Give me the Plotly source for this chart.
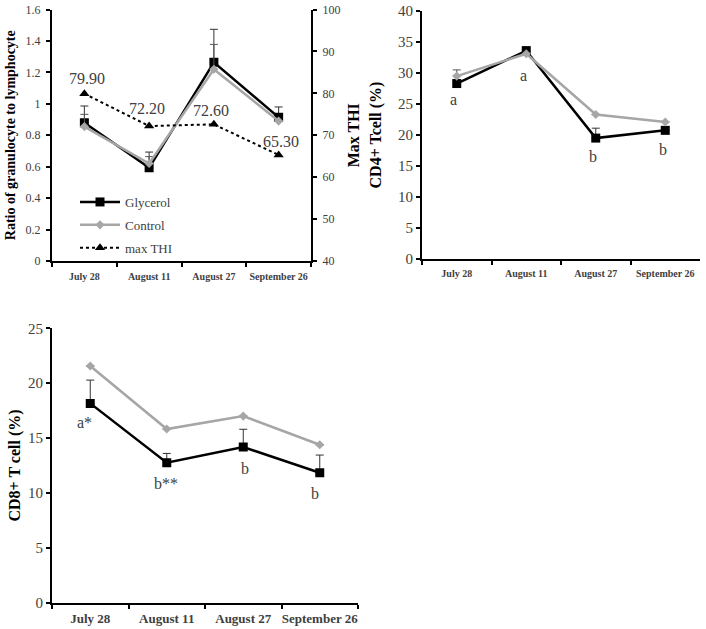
import plotly.graph_objects as go

# ---------------- data ----------------
dates = ["July 28", "August 11", "August 27", "September 26"]

gl_ratio = [0.88, 0.593, 1.264, 0.914]
gl_ratio_err = [0.106, 0.10, 0.21, 0.066]
ct_ratio = [0.855, 0.62, 1.22, 0.89]
ct_ratio_err = [0.078, 0.044, 0.158, 0.0]
max_thi = [79.9, 72.2, 72.6, 65.3]
thi_labels = ["79.90", "72.20", "72.60", "65.30"]

gl_cd4 = [28.3, 33.6, 19.5, 20.75]
gl_cd4_err = [0.4, 0.6, 1.6, 0.4]
ct_cd4 = [29.5, 33.1, 23.3, 22.1]
ct_cd4_err = [1.0, 0.0, 0.0, 0.0]
cd4_letters = ["a", "a", "b", "b"]

gl_cd8 = [18.16, 12.75, 14.18, 11.84]
gl_cd8_err = [2.12, 0.85, 1.62, 1.61]
ct_cd8 = [21.56, 15.82, 17.0, 14.39]
ct_cd8_err = [0.0, 0.0, 0.0, 0.0]
cd8_letters = ["a*", "b**", "b", "b"]

# ---------------- styles ----------------
W, H = 706, 629
SERIF = "Liberation Serif, Times New Roman, serif"
BLACK = "#000000"
GRAY = "#a6a6a6"
TXT = "#404040"


def px_x(p):
    return p / W


def px_y(p):
    return 1 - p / H


fig = go.Figure()


def add_pair(xa, ya, gl, gle, ct, cte, show):
    fig.add_trace(go.Scatter(
        x=dates, y=gl, name="Glycerol", mode="lines+markers",
        xaxis=xa, yaxis=ya, legendgroup="g1", showlegend=show,
        line=dict(color=BLACK, width=2.5),
        marker=dict(symbol="square", size=9, color=BLACK),
        error_y=dict(type="data", symmetric=False, array=gle,
                     arrayminus=[0] * len(gle), color="#333333",
                     thickness=1, width=4),
    ))
    fig.add_trace(go.Scatter(
        x=dates, y=ct, name="Control", mode="lines+markers",
        xaxis=xa, yaxis=ya, legendgroup="g2", showlegend=show,
        line=dict(color=GRAY, width=2.5),
        marker=dict(symbol="diamond", size=7, color=GRAY),
        error_y=dict(type="data", symmetric=False, array=cte,
                     arrayminus=[0] * len(cte), color="#555555",
                     thickness=1, width=4),
    ))


# Panel 1
add_pair("x", "y", gl_ratio, gl_ratio_err, ct_ratio, ct_ratio_err, True)
fig.add_trace(go.Scatter(
    x=dates, y=max_thi, name="max THI", mode="lines+markers",
    xaxis="x", yaxis="y2", legendgroup="g3",
    line=dict(color=BLACK, width=2, dash="dot"),
    marker=dict(symbol="triangle-up", size=9, color=BLACK),
))
# Panel 2
add_pair("x2", "y3", gl_cd4, gl_cd4_err, ct_cd4, ct_cd4_err, False)
# Panel 3
add_pair("x3", "y4", gl_cd8, gl_cd8_err, ct_cd8, ct_cd8_err, False)

annotations = []
thi_shift = [(3, 15), (-2, 18), (-3, 14), (2, 13)]
for d, v, t, (dx, dy) in zip(dates, max_thi, thi_labels, thi_shift):
    annotations.append(dict(x=d, y=v, xref="x", yref="y2", text=t,
                            showarrow=False, xshift=dx, yshift=dy,
                            font=dict(family=SERIF, size=16, color=TXT)))
cd4_shift = [(-3.5, -15.5), (-3, -25), (-3, -18), (-2, -19)]
for d, v, t, (dx, dy) in zip(dates, gl_cd4, cd4_letters, cd4_shift):
    annotations.append(dict(x=d, y=v, xref="x2", yref="y3", text=t,
                            showarrow=False, xshift=dx, yshift=dy,
                            font=dict(family=SERIF, size=16, color=TXT)))
cd8_shift = [(-6, -19), (-1, -21), (2, -21), (-5, -21)]
for d, v, t, (dx, dy) in zip(dates, gl_cd8, cd8_letters, cd8_shift):
    annotations.append(dict(x=d, y=v, xref="x3", yref="y4", text=t,
                            showarrow=False, xshift=dx, yshift=dy,
                            font=dict(family=SERIF, size=16, color=TXT)))


def xaxis(dom, anchor, fs, lstand):
    return dict(domain=dom, anchor=anchor, type="category",
                range=[-0.5, 3.5], tickson="boundaries", tickangle=0,
                automargin=False, ticklabelstandoff=lstand,
                ticks="outside", ticklen=4, tickwidth=1.5, tickcolor=BLACK,
                showline=True, linecolor=BLACK, linewidth=2,
                showgrid=False, zeroline=False,
                tickfont=dict(family=SERIF, size=fs, color=TXT, weight="bold"))


def yaxis(dom, anchor, rng, dtick, fs, title, tfs, standoff, lstand,
          side="left"):
    return dict(domain=dom, anchor=anchor, range=rng, dtick=dtick,
                side=side, ticks="outside", ticklen=4, tickwidth=1.5,
                automargin=False,
                tickcolor=BLACK, showline=True, linecolor=BLACK, linewidth=2,
                showgrid=False, zeroline=False, ticklabelstandoff=lstand,
                tickfont=dict(family=SERIF, size=fs, color=TXT),
                title=dict(text=title, standoff=standoff,
                           font=dict(family=SERIF, size=tfs, color=BLACK,
                                     weight="bold")))


y2 = yaxis([px_y(261), px_y(9.5)], "x", [40, 100], 10, 12,
           "Max THI", 16, 8, 3, side="right")
y2.pop("domain")
y2["overlaying"] = "y"

fig.update_layout(
    width=W, height=H,
    margin=dict(l=0, r=0, t=0, b=0, autoexpand=False),
    paper_bgcolor="white", plot_bgcolor="white",
    showlegend=True,
    legend=dict(x=px_x(75), y=px_y(187), xanchor="left", yanchor="top",
                bgcolor="rgba(0,0,0,0)", traceorder="grouped",
                tracegroupgap=3, itemwidth=40,
                font=dict(family=SERIF, size=13, color=TXT)),
    xaxis=xaxis([px_x(52), px_x(311)], "y", 10, 5),
    yaxis=yaxis([px_y(261), px_y(9.5)], "x", [0, 1.6], 0.2, 12,
                "Ratio of granulocyte to lymphocyte", 14, 7, 3),
    yaxis2=y2,
    xaxis2=xaxis([px_x(422), px_x(700)], "y3", 10, 4),
    yaxis3=yaxis([px_y(259), px_y(11)], "x2", [0, 40], 5, 15,
                 "CD4+ Tcell (%)", 16, 12, 0),
    xaxis3=xaxis([px_x(52), px_x(358)], "y4", 13, 3),
    yaxis4=yaxis([px_y(602.7), px_y(328.3)], "x3", [0, 25], 5, 15,
                 "CD8+ T cell (%)", 16, 3, 0),
    annotations=annotations,
)

fig.write_html(
    "out.html",
    config={"displayModeBar": False},
    post_script="document.body.style.margin='0';"
                "document.body.style.overflow='hidden';",
)
